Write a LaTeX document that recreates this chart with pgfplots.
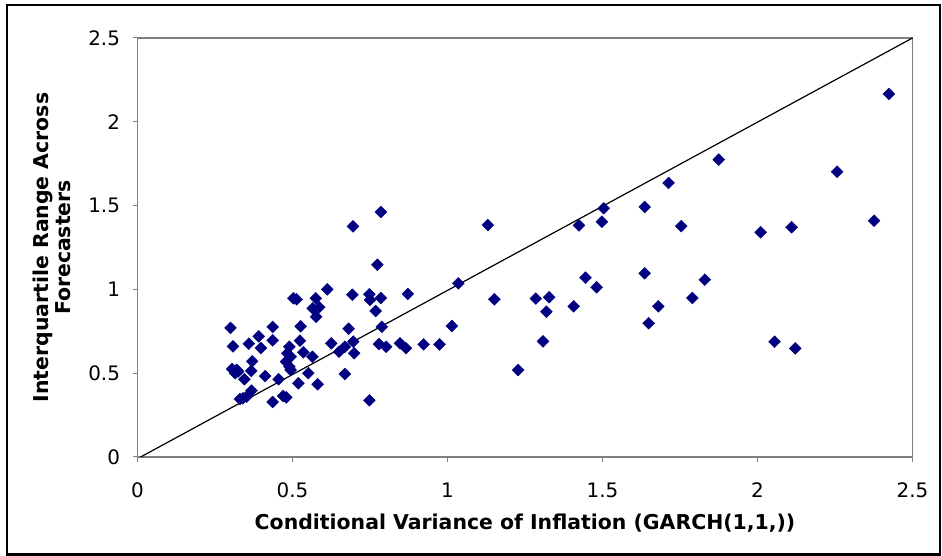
\documentclass[border=0pt]{standalone}
\usepackage{fontspec}
\setmainfont{DejaVu Sans}
\usepackage{pgfplots}
\pgfplotsset{compat=1.18}
\definecolor{navy}{HTML}{000080}
\definecolor{framegray}{HTML}{808080}
\begin{document}
\begin{tikzpicture}
\useasboundingbox (0,0) rectangle (942bp,556bp);
\draw[line width=2bp, black] (7bp,1.5bp) rectangle (940bp,551bp);
\begin{axis}[
  at={(137.5bp,99bp)}, anchor=south west,
  scale only axis, width=775bp, height=419bp,
  xmin=0, xmax=2.5, ymin=0, ymax=2.5,
  xtick={0,0.5,1,1.5,2,2.5}, ytick={0,0.5,1,1.5,2,2.5},
  tick pos=left, tick align=outside,
  major tick length=5bp,
  every tick/.style={framegray, line width=1bp},
  axis line style={framegray, line width=1.2bp},
  /pgf/number format/assume math mode=true,
  tick label style={font=\fontsize{20}{24}\selectfont},
  xticklabel style={yshift=-17bp},
  yticklabel style={xshift=-9bp},
  xlabel={Conditional Variance of Inflation (GARCH(1,1,))},
  ylabel={Interquartile Range Across\\Forecasters},
  every axis x label/.style={at={(axis description cs:0.5,-0.174)}, anchor=base, font=\bfseries\fontsize{20.5}{22}\selectfont},
  every axis y label/.style={at={(axis description cs:-0.110,0.5)}, anchor=center, rotate=90, align=center, font=\bfseries\fontsize{20.5}{22}\selectfont},
  clip=false,
]
\addplot[black, line width=1.2bp] coordinates {(0.01,0) (2.5,2.5)};
\addplot[only marks, mark=square*, mark size=4.2bp, mark options={rotate=45, fill=navy, draw=navy}] coordinates {
(0.300,0.770) (0.308,0.660) (0.305,0.525) (0.320,0.520) (0.315,0.500)
(0.325,0.510) (0.367,0.514) (0.345,0.464) (0.359,0.676) (0.391,0.720)
(0.398,0.650) (0.436,0.776) (0.436,0.696) (0.370,0.571) (0.412,0.483)
(0.455,0.464) (0.330,0.346) (0.340,0.350) (0.352,0.360) (0.368,0.396)
(0.436,0.328) (0.470,0.364) (0.480,0.356) (0.490,0.658) (0.483,0.619)
(0.494,0.598) (0.479,0.569) (0.490,0.539) (0.494,0.519) (0.535,0.625)
(0.526,0.780) (0.524,0.694) (0.564,0.598) (0.551,0.500) (0.519,0.440)
(0.581,0.434) (0.503,0.947) (0.513,0.941) (0.575,0.947) (0.565,0.887)
(0.586,0.893) (0.576,0.837) (0.612,1.000) (0.625,0.678) (0.650,0.628)
(0.669,0.658) (0.696,0.688) (0.699,0.619) (0.681,0.765) (0.669,0.495)
(0.748,0.338) (0.785,1.462) (0.695,1.376) (0.774,1.147) (0.693,0.968)
(0.748,0.971) (0.750,0.937) (0.785,0.949) (0.872,0.973) (0.768,0.871)
(0.788,0.777) (0.779,0.674) (0.802,0.658) (0.847,0.678) (0.866,0.649)
(0.923,0.672) (0.974,0.672) (1.014,0.782) (1.035,1.036) (1.130,1.384)
(1.151,0.941) (1.228,0.519) (1.285,0.945) (1.308,0.690) (1.319,0.867)
(1.328,0.953) (1.407,0.899) (1.424,1.382) (1.445,1.070) (1.481,1.013)
(1.498,1.404) (1.504,1.484) (1.636,1.492) (1.636,1.096) (1.649,0.798)
(1.680,0.899) (1.713,1.635) (1.754,1.377) (1.790,0.949) (1.830,1.058)
(1.875,1.774) (2.010,1.341) (2.055,0.688) (2.110,1.371) (2.122,0.648)
(2.257,1.702) (2.376,1.410) (2.424,2.166)
};
\end{axis}
\end{tikzpicture}
\end{document}
